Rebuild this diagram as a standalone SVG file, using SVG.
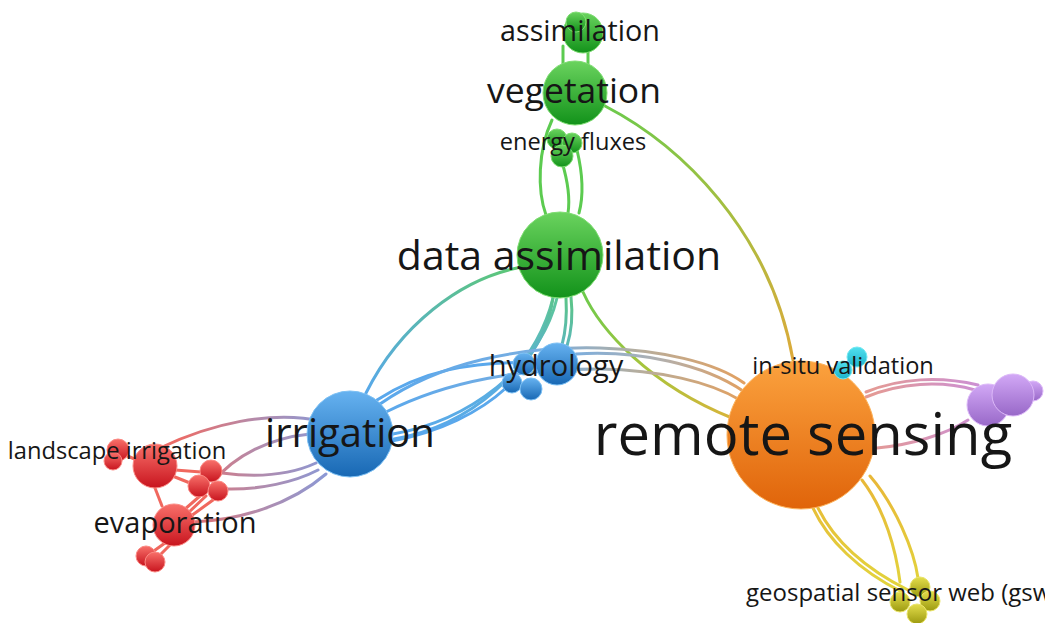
<svg xmlns="http://www.w3.org/2000/svg" width="1045" height="623" viewBox="0 0 1045 623">
  <defs>
    <!-- node fills: lighter at the top, darker at the bottom -->
    <linearGradient id="fGreen" x1="0" y1="0" x2="0" y2="1"><stop offset="0" stop-color="#6ad35e"/><stop offset="1" stop-color="#12921a"/></linearGradient>
    <linearGradient id="fBlue" x1="0" y1="0" x2="0" y2="1"><stop offset="0" stop-color="#66b2f0"/><stop offset="1" stop-color="#1868b4"/></linearGradient>
    <linearGradient id="fRed" x1="0" y1="0" x2="0" y2="1"><stop offset="0" stop-color="#f8706a"/><stop offset="1" stop-color="#c8141e"/></linearGradient>
    <linearGradient id="fOrange" x1="0" y1="0" x2="0" y2="1"><stop offset="0" stop-color="#fba23e"/><stop offset="1" stop-color="#e0640a"/></linearGradient>
    <linearGradient id="fPurple" x1="0" y1="0" x2="0" y2="1"><stop offset="0" stop-color="#d2a8f6"/><stop offset="1" stop-color="#9868c8"/></linearGradient>
    <linearGradient id="fCyan" x1="0" y1="0" x2="0" y2="1"><stop offset="0" stop-color="#52e0ee"/><stop offset="1" stop-color="#1cb4cc"/></linearGradient>
    <linearGradient id="fYellow" x1="0" y1="0" x2="0" y2="1"><stop offset="0" stop-color="#e4de4c"/><stop offset="1" stop-color="#9c9a10"/></linearGradient>

    <!-- links between clusters blend the two cluster colours -->
    <linearGradient id="lIrDa" gradientUnits="userSpaceOnUse" x1="366" y1="393" x2="517" y2="268"><stop offset="0" stop-color="#58a8ea"/><stop offset="1" stop-color="#5cc874"/></linearGradient>
    <linearGradient id="lIrDa2" gradientUnits="userSpaceOnUse" x1="394" y1="438" x2="556" y2="298"><stop offset="0" stop-color="#5aa8ec"/><stop offset="0.55" stop-color="#5aaee0"/><stop offset="1" stop-color="#5cc69a"/></linearGradient>
    <linearGradient id="lDaHy" gradientUnits="userSpaceOnUse" x1="560" y1="298" x2="535" y2="372"><stop offset="0" stop-color="#5cc48a"/><stop offset="1" stop-color="#5aaee0"/></linearGradient>
    <linearGradient id="lHyRs" gradientUnits="userSpaceOnUse" x1="570" y1="0" x2="745" y2="0"><stop offset="0" stop-color="#7aaee0"/><stop offset="0.5" stop-color="#b0b0b0"/><stop offset="1" stop-color="#e2a060"/></linearGradient>
    <linearGradient id="lIrRs" gradientUnits="userSpaceOnUse" x1="380" y1="0" x2="745" y2="0"><stop offset="0" stop-color="#5aa8ec"/><stop offset="0.45" stop-color="#7aaee0"/><stop offset="0.7" stop-color="#b4aea0"/><stop offset="1" stop-color="#e2a060"/></linearGradient>
    <linearGradient id="lVegRs" gradientUnits="userSpaceOnUse" x1="605" y1="106" x2="793" y2="360"><stop offset="0" stop-color="#6cca4c"/><stop offset="0.5" stop-color="#a6be40"/><stop offset="1" stop-color="#dcaa3a"/></linearGradient>
    <linearGradient id="lDaRs" gradientUnits="userSpaceOnUse" x1="583" y1="292" x2="732" y2="418"><stop offset="0" stop-color="#6cca4c"/><stop offset="0.5" stop-color="#a8c43c"/><stop offset="1" stop-color="#d8b43a"/></linearGradient>
    <linearGradient id="lIrRed" gradientUnits="userSpaceOnUse" x1="325" y1="0" x2="180" y2="0"><stop offset="0" stop-color="#8c98d4"/><stop offset="0.5" stop-color="#b68aa8"/><stop offset="1" stop-color="#ea6c68"/></linearGradient>
    <linearGradient id="lRsPu" gradientUnits="userSpaceOnUse" x1="870" y1="0" x2="980" y2="0"><stop offset="0" stop-color="#e49a94"/><stop offset="1" stop-color="#cc90d4"/></linearGradient>
    <linearGradient id="lRsYe" gradientUnits="userSpaceOnUse" x1="0" y1="480" x2="0" y2="590"><stop offset="0" stop-color="#e8b838"/><stop offset="1" stop-color="#e2d43c"/></linearGradient>

    <style>
      .link { fill: none; stroke-width: 3; stroke-linecap: round; }
      .g { stroke: #5ccb50; }
      .b { stroke: #5aa8ec; }
      .r { stroke: #f0685e; }
      .y { stroke: url(#lRsYe); }
      .green circle { fill: url(#fGreen); stroke: #7edd72; stroke-width: 1; }
      .blue circle { fill: url(#fBlue); stroke: #7cc0f4; stroke-width: 1; }
      .red circle { fill: url(#fRed); stroke: #fb8a84; stroke-width: 1; }
      .orange circle { fill: url(#fOrange); stroke: #fcb25a; stroke-width: 1; }
      .purple circle { fill: url(#fPurple); stroke: #dcb8f8; stroke-width: 1; }
      .cyan circle { fill: url(#fCyan); stroke: #72e8f2; stroke-width: 1; }
      .yellow circle { fill: url(#fYellow); stroke: #eae468; stroke-width: 1; }
      text { font-family: "Open Sans", "Noto Sans", "DejaVu Sans", sans-serif; fill: #161616; text-anchor: middle; }
    </style>
  </defs>

  <rect width="1045" height="623" fill="#ffffff"/>

  <g id="connectors">
    <!-- green cluster -->
    <path class="link g" d="M 563 46 L 563 66"/>
    <path class="link g" d="M 588 48 L 588 64"/>
    <path class="link g" d="M 552 120 C 538 150, 537 190, 546 215"/>
    <path class="link g" d="M 562 162 C 568 182, 570 200, 568 213"/>
    <path class="link g" d="M 577 150 C 583 175, 583 198, 579 213"/>

    <!-- green to orange -->
    <path class="link" stroke="url(#lVegRs)" d="M 605 106 C 680 145, 770 230, 793 360"/>
    <path class="link" stroke="url(#lDaRs)" stroke-width="4" d="M 583 292 C 600 330, 650 385, 732 418"/>

    <!-- green to blue -->
    <path class="link" stroke="url(#lIrDa)" d="M 517 268 C 460 280, 400 325, 366 393"/>
    <path class="link" stroke="url(#lIrDa2)" d="M 394 439 C 470 426, 535 370, 553 298"/>
    <path class="link" stroke="url(#lIrDa2)" d="M 393 434 C 468 421, 540 368, 557 298"/>
    <path class="link" stroke="url(#lDaHy)" d="M 553 298 C 550 320, 540 345, 518 372"/>
    <path class="link" stroke="url(#lDaHy)" d="M 566 298 C 567 315, 566 330, 562 345"/>
    <path class="link" stroke="url(#lDaHy)" d="M 571 297 C 573 315, 572 330, 567 346"/>

    <!-- blue cluster -->
    <path class="link b" d="M 377 400 C 420 372, 470 360, 540 363"/>
    <path class="link b" d="M 392 441 C 440 432, 480 412, 506 388"/>

    <!-- blue to orange -->
    <path class="link" stroke="url(#lIrRs)" d="M 380 404 C 440 362, 520 346, 600 348 C 660 350, 715 362, 744 383"/>
    <path class="link" stroke="url(#lIrRs)" d="M 386 412 C 450 380, 520 369, 600 369 C 660 370, 710 382, 740 400"/>
    <path class="link" stroke="url(#lHyRs)" d="M 576 354 C 640 350, 705 365, 743 391"/>

    <!-- blue to red -->
    <path class="link" stroke="url(#lIrRed)" d="M 160 448 C 210 424, 270 410, 322 421"/>
    <path class="link" stroke="url(#lIrRed)" d="M 213 482 C 235 455, 270 438, 310 434"/>
    <path class="link" stroke="url(#lIrRed)" d="M 222 473 C 260 478, 290 475, 316 463"/>
    <path class="link" stroke="url(#lIrRed)" d="M 225 489 C 260 490, 295 482, 318 470"/>
    <path class="link" stroke="url(#lIrRed)" d="M 193 522 C 240 520, 290 505, 326 474"/>

    <!-- red cluster -->
    <path class="link r" d="M 125 455 L 137 460"/>
    <path class="link r" d="M 175 470 L 201 472"/>
    <path class="link r" d="M 175 477 L 190 483"/>
    <path class="link r" d="M 155 488 L 162 506"/>
    <path class="link r" d="M 200 496 L 184 510"/>
    <path class="link r" d="M 206 496 L 188 513"/>
    <path class="link r" d="M 213 500 L 191 516"/>
    <path class="link r" d="M 165 543 L 151 553"/>
    <path class="link r" d="M 170 545 L 157 558"/>

    <!-- orange to purple -->
    <path class="link" stroke="url(#lRsPu)" d="M 866 392 C 900 378, 940 376, 978 385"/>
    <path class="link" stroke="url(#lRsPu)" d="M 866 397 C 900 383, 940 380, 975 390"/>
    <path class="link" stroke="url(#lRsPu)" d="M 877 448 C 910 445, 945 435, 968 420"/>

    <!-- orange to yellow -->
    <path class="link y" d="M 813 508 C 828 540, 858 570, 902 592"/>
    <path class="link y" d="M 818 508 C 834 540, 864 568, 908 590"/>
    <path class="link y" d="M 862 480 C 885 510, 896 550, 900 582"/>
    <path class="link y" d="M 870 476 C 895 505, 914 550, 918 578"/>
  </g>

  <g id="node-remote-sensing" class="orange"><circle cx="801" cy="435" r="74"/></g>
  <g id="node-in-situ-validation" class="cyan"><circle cx="857" cy="357" r="10"/><circle cx="843" cy="370" r="9"/></g>
  <g id="node-purple" class="purple"><circle cx="1033" cy="391" r="10"/><circle cx="988" cy="405" r="21"/><circle cx="1013" cy="395" r="21"/></g>
  <g id="node-geospatial-sensor-web" class="yellow"><circle cx="920" cy="587" r="10"/><circle cx="900" cy="602" r="10"/><circle cx="930" cy="601" r="10"/><circle cx="917" cy="614" r="10"/></g>

  <g id="node-data-assimilation" class="green"><circle cx="560" cy="255" r="43"/></g>
  <g id="node-vegetation" class="green"><circle cx="575" cy="93" r="32"/></g>
  <g id="node-energy-fluxes" class="green"><circle cx="557" cy="139" r="10"/><circle cx="572" cy="143" r="10"/><circle cx="562" cy="156" r="11"/></g>
  <g id="node-assimilation" class="green"><circle cx="583" cy="33" r="20"/><circle cx="576" cy="22" r="10"/></g>

  <g id="node-irrigation" class="blue"><circle cx="350" cy="434" r="43"/></g>
  <g id="node-hydrology" class="blue"><circle cx="557" cy="364" r="21"/><circle cx="524" cy="364" r="11"/><circle cx="512" cy="383" r="10"/><circle cx="531" cy="389" r="11"/></g>

  <g id="node-red-main" class="red"><circle cx="155" cy="466" r="22"/><circle cx="211" cy="471" r="11"/><circle cx="199" cy="486" r="11"/><circle cx="218" cy="491" r="10"/></g>
  <g id="node-landscape-irrigation" class="red"><circle cx="118" cy="450" r="11"/><circle cx="113" cy="461" r="9"/></g>
  <g id="node-evaporation" class="red"><circle cx="174" cy="525" r="21"/><circle cx="146" cy="556" r="10"/><circle cx="155" cy="562" r="10"/></g>

  <g id="labels">
    <text x="580" y="41" font-size="28.7">assimilation</text>
    <text x="574" y="103" font-size="35.5">vegetation</text>
    <text x="573" y="150" font-size="23.6">energy fluxes</text>
    <text x="559" y="270" font-size="41">data assimilation</text>
    <text x="556" y="376" font-size="29">hydrology</text>
    <text x="350" y="447" font-size="40">irrigation</text>
    <text x="117" y="459" font-size="23.7">landscape irrigation</text>
    <text x="175" y="533" font-size="29">evaporation</text>
    <text x="803" y="455" font-size="58">remote sensing</text>
    <text x="843" y="374" font-size="23.6">in-situ validation</text>
    <text x="746" y="601" font-size="24" style="text-anchor:start">geospatial sensor web (gsw</text>
  </g>
</svg>
